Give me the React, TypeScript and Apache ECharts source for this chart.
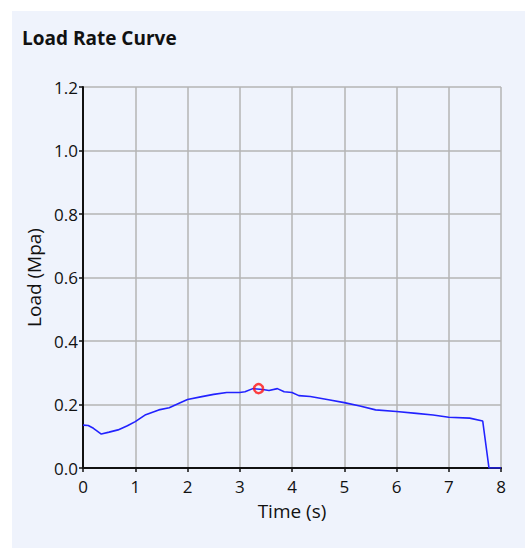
import React, { useEffect, useRef } from "react";
import * as echarts from "echarts";

const times = [0, 0.1, 0.2, 0.35, 0.5, 0.67, 0.85, 1.0, 1.2, 1.45, 1.65, 1.85, 2.0, 2.25, 2.5, 2.75, 3.0, 3.1, 3.25, 3.44, 3.56, 3.72, 3.85, 4.0, 4.13, 4.35, 4.7, 5.0, 5.3, 5.6, 6.0, 6.38, 6.7, 7.0, 7.4, 7.65, 7.77, 8.0];
const loads = [0.135, 0.134, 0.125, 0.107, 0.113, 0.12, 0.133, 0.146, 0.168, 0.183, 0.19, 0.205, 0.216, 0.224, 0.232, 0.238, 0.238, 0.24, 0.25, 0.247, 0.244, 0.25, 0.24, 0.238, 0.228, 0.225, 0.215, 0.206, 0.195, 0.183, 0.178, 0.172, 0.167, 0.16, 0.157, 0.148, 0, 0];
const markerPoint = [3.36, 0.25];
const yTicks = [0, 0.2, 0.4, 0.6, 0.8, 1.0, 1.2];
const xTicks = [0, 1, 2, 3, 4, 5, 6, 7, 8];

const FONT = "'Open Sans', 'Noto Sans', sans-serif";

export default function App() {
  const ref = useRef<HTMLDivElement>(null);
  useEffect(() => {
    if (!ref.current) return;
    const chart = echarts.init(ref.current, undefined, { renderer: "svg" });
    chart.setOption({
      animation: false,
      backgroundColor: "#ffffff",
      graphic: [
        {
          type: "rect",
          z: -10,
          silent: true,
          shape: { x: 12, y: 11, width: 513, height: 537 },
          style: { fill: "#EFF3FC" },
        },
      ],
      title: {
        text: "Load Rate Curve",
        left: 17,
        top: 23,
        textStyle: { fontFamily: FONT, fontSize: 19, fontWeight: "bold", color: "#111" },
      },
      grid: { left: 83, top: 87, right: 24, bottom: 80 },
      xAxis: {
        type: "value",
        min: xTicks[0],
        max: xTicks[xTicks.length - 1],
        interval: 1,
        name: "Time (s)",
        nameLocation: "middle",
        nameGap: 33,
        nameTextStyle: { fontFamily: FONT, fontSize: 19, color: "#111" },
        axisLine: { show: true, onZero: false, lineStyle: { color: "#111", width: 2 } },
        axisTick: { show: true, length: 4, lineStyle: { color: "#111", width: 1.5 } },
        axisLabel: { fontFamily: FONT, fontSize: 17, color: "#111", margin: 10 },
        splitLine: { show: true, lineStyle: { color: "#b4b4b4", width: 1.5 } },
      },
      yAxis: {
        type: "value",
        min: yTicks[0],
        max: yTicks[yTicks.length - 1],
        interval: 0.2,
        name: "Load (Mpa)",
        nameLocation: "middle",
        nameGap: 35,
        nameTextStyle: { fontFamily: FONT, fontSize: 19, color: "#111" },
        axisLine: { show: true, onZero: false, lineStyle: { color: "#111", width: 2 } },
        axisTick: { show: true, length: 4, lineStyle: { color: "#111", width: 1.5 } },
        axisLabel: {
          fontFamily: FONT,
          fontSize: 17,
          color: "#111",
          margin: 5,
          formatter: (v: number) => v.toFixed(1),
        },
        splitLine: { show: true, lineStyle: { color: "#b4b4b4", width: 1.5 } },
      },
      series: [
        {
          type: "line",
          data: times.map((t, i) => [t, loads[i]]),
          showSymbol: false,
          symbol: "none",
          lineStyle: { color: "#2222ff", width: 1.6 },
          z: 3,
        },
        {
          type: "scatter",
          data: [markerPoint],
          symbol: "circle",
          symbolSize: 9,
          itemStyle: { color: "rgba(0,0,0,0)", borderColor: "#ff1010", borderWidth: 2.5 },
          z: 4,
        },
      ],
    });
    return () => chart.dispose();
  }, []);
  return (
    <div style={{ position: "fixed", left: 0, top: 0, width: 525, height: 548 }}>
      <div ref={ref} style={{ width: 525, height: 548 }} />
    </div>
  );
}
